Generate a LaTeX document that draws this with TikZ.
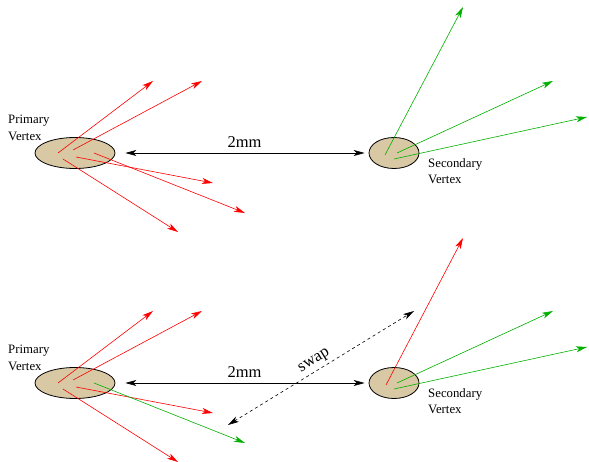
\documentclass[tikz,border=0pt]{standalone}
\usepackage{fontspec}
\setmainfont{Liberation Serif}
\usetikzlibrary{shapes.geometric,arrows.meta,positioning,calc}
\definecolor{vertextan}{RGB}{216,200,164}
\definecolor{trackred}{RGB}{255,0,0}
\definecolor{trackgreen}{RGB}{0,176,0}

\begin{document}
\begin{tikzpicture}[x=1pt, y=-1pt,
    vertex/.style={ellipse, draw=black, fill=vertextan, line width=0.8pt, inner sep=0pt},
    primary/.style={vertex, minimum width=80pt, minimum height=31pt},
    secondary/.style={vertex, minimum width=50pt, minimum height=31pt},
    track/.style={line width=0.6pt, -{Stealth[length=11pt, width=6pt, inset=3pt]}},
    redtrack/.style={track, draw=trackred},
    greentrack/.style={track, draw=trackgreen},
    dist/.style={line width=0.6pt, {Stealth[length=11pt, width=6pt, inset=3pt]}-{Stealth[length=11pt, width=6pt, inset=3pt]},
                 shorten <=10pt, shorten >=4pt},
    swapline/.style={line width=0.6pt, dashed, {Stealth[length=11pt, width=6pt, inset=3pt]}-{Stealth[length=11pt, width=6pt, inset=3pt]}},
    vlabel/.style={font=\fontsize{12.8}{16.5}\selectfont, align=left, inner sep=0pt},
    dlabel/.style={font=\fontsize{16.5}{18}\selectfont, inner sep=0pt}
]
\useasboundingbox (0,0) rectangle (589,462);

% Vertices
\node[primary] (pv1) at (75,153) {};
\node[secondary] (sv1) at (394,153) {};
\node[primary] (pv2) at (75,383) {};
\node[secondary] (sv2) at (394,383) {};

% Vertex labels
\node[vlabel, anchor=west] (pl1) at (8,128) {Primary\\Vertex};
\node[vlabel, anchor=west] (sl1) at (428,171) {Secondary\\Vertex};
\node[vlabel, anchor=west] (pl2) at (8,358) {Primary\\Vertex};
\node[vlabel, anchor=west] (sl2) at (428,401) {Secondary\\Vertex};

% Top: primary tracks
\draw[redtrack] ($(pv1)+(-17,0)$) -- ($(pv1)+(78,-72)$);
\draw[redtrack] ($(pv1)+(-2,-3)$) -- ($(pv1)+(127,-72)$);
\draw[redtrack] ($(pv1)+(1,4)$) -- ($(pv1)+(138,30)$);
\draw[redtrack] ($(pv1)+(19,0)$) -- ($(pv1)+(170,60)$);
\draw[redtrack] ($(pv1)+(-12,6)$) -- ($(pv1)+(103,79)$);

% Top: secondary tracks
\draw[greentrack] ($(sv1)+(-9,2)$) -- ($(sv1)+(69,-146)$);
\draw[greentrack] ($(sv1)+(3,0)$) -- ($(sv1)+(159,-72)$);
\draw[greentrack] ($(sv1)+(0,6)$) -- ($(sv1)+(193,-36)$);

% Top: distance
\draw[dist] (pv1) -- (sv1) node[dlabel, pos=0.51, above=5pt] (d1) {2mm};

% Bottom: primary tracks
\draw[redtrack] ($(pv2)+(-17,0)$) -- ($(pv2)+(78,-72)$);
\draw[redtrack] ($(pv2)+(-2,-3)$) -- ($(pv2)+(127,-72)$);
\draw[redtrack] ($(pv2)+(1,4)$) -- ($(pv2)+(138,30)$);
\draw[greentrack] ($(pv2)+(19,0)$) -- ($(pv2)+(170,60)$);
\draw[redtrack] ($(pv2)+(-12,6)$) -- ($(pv2)+(103,79)$);

% Bottom: secondary tracks
\draw[redtrack] ($(sv2)+(-8,2)$) -- ($(sv2)+(69,-145)$);
\draw[greentrack] ($(sv2)+(3,0)$) -- ($(sv2)+(159,-72)$);
\draw[greentrack] ($(sv2)+(0,6)$) -- ($(sv2)+(193,-36)$);

% Bottom: distance and swap
\draw[dist] (pv2) -- (sv2) node[dlabel, pos=0.51, above=5pt] (d2) {2mm};
\coordinate (swapa) at (228,425);
\coordinate (swapb) at (414,311);
\draw[swapline] (swapa) -- (swapb) node[dlabel, pos=0.49, sloped, above=3pt] (sw) {swap};

\end{tikzpicture}
\end{document}
